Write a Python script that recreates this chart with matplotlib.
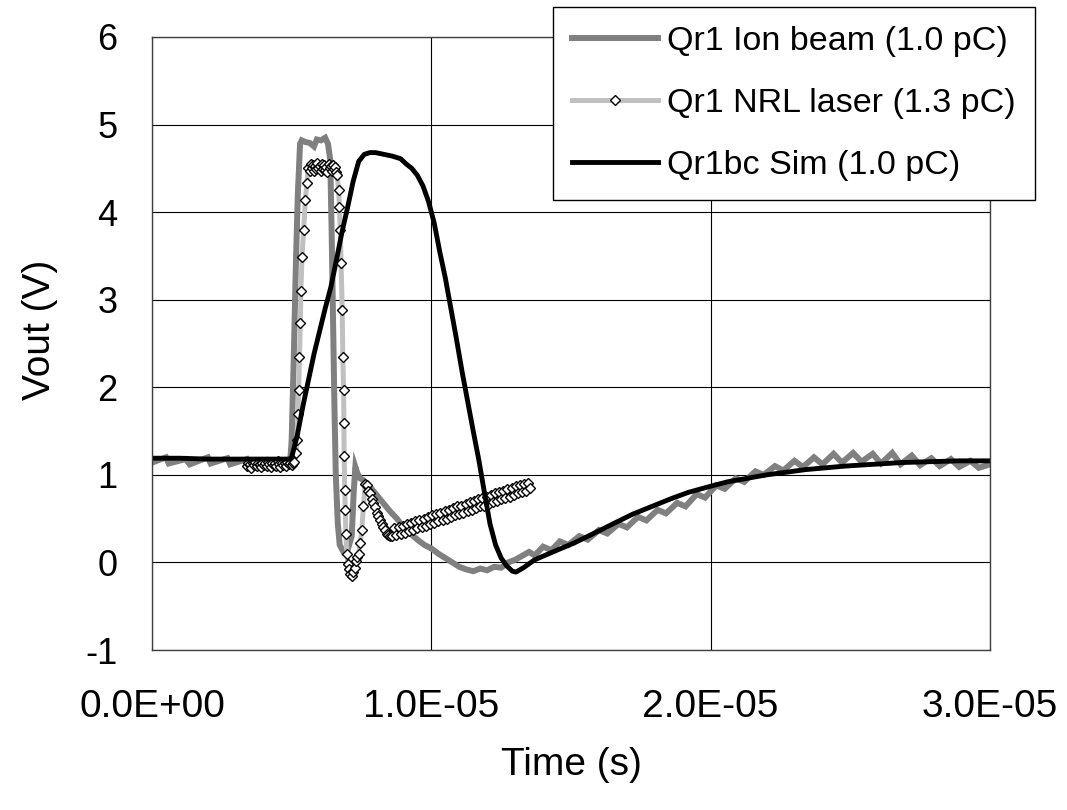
import numpy as np
import matplotlib
matplotlib.use("Agg")
from matplotlib import pyplot as plt
from matplotlib.ticker import FuncFormatter

plt.rcParams['font.family'] = ['Liberation Sans', 'DejaVu Sans']
plt.rcParams['axes.unicode_minus'] = False

# time in microseconds, voltage in V
ion_t = [0.0, 0.5, 0.6, 1.2, 1.35, 2.0, 2.1, 2.7, 2.8, 3.4, 3.5, 4.1, 4.2, 4.8, 4.95,
         5.00, 5.08, 5.15, 5.22, 5.30, 5.36,
         5.50, 5.65, 5.80, 5.90, 6.05, 6.20, 6.30,
         6.38, 6.43, 6.48, 6.53, 6.58, 6.65, 6.72, 6.85, 7.00, 7.15,
         7.22, 7.28, 7.35, 7.45,
         7.57, 7.81, 8.17, 8.53, 8.77, 9.00, 9.25, 9.50, 9.75, 10.0, 10.25, 10.5,
         10.75, 11.0, 11.25, 11.5, 11.75, 12.0, 12.25, 12.5, 12.75, 13.0,
         13.5, 13.7, 14.0, 14.3, 14.6, 14.9, 15.3, 15.6, 16.0, 16.3, 16.7, 17.0,
         17.4, 17.7, 18.1, 18.4, 18.8, 19.1, 19.5, 19.8, 20.2, 20.5, 20.9, 21.2,
         21.6, 21.9, 22.3, 22.6, 23.0, 23.3, 23.7, 24.0, 24.4, 24.7, 25.1, 25.4,
         25.8, 26.1, 26.5, 26.8, 27.2, 27.5, 27.9, 28.2, 28.6, 28.9, 29.3, 29.6, 30.0]
ion_v = [1.14, 1.20, 1.13, 1.18, 1.12, 1.20, 1.13, 1.19, 1.12, 1.18, 1.12, 1.17, 1.12, 1.14, 1.16,
         1.40, 2.40, 3.40, 4.20, 4.78, 4.82,
         4.80, 4.79, 4.75, 4.83, 4.82, 4.85, 4.78,
         4.60, 3.80, 2.80, 1.80, 1.00, 0.45, 0.20, 0.12, 0.14, 0.30,
         0.80, 1.09, 1.02, 0.96,
         0.94, 0.86, 0.72, 0.58, 0.50, 0.40, 0.33, 0.26, 0.20, 0.16, 0.10, 0.05,
         0.00, -0.05, -0.08, -0.10, -0.07, -0.09, -0.05, -0.06, 0.00, 0.03,
         0.12, 0.08, 0.18, 0.14, 0.24, 0.20, 0.30, 0.26, 0.37, 0.33, 0.44, 0.40,
         0.52, 0.48, 0.60, 0.56, 0.68, 0.64, 0.78, 0.74, 0.88, 0.84, 0.96, 0.92,
         1.04, 1.00, 1.10, 1.05, 1.16, 1.09, 1.20, 1.12, 1.24, 1.14, 1.25, 1.15,
         1.24, 1.13, 1.25, 1.12, 1.22, 1.11, 1.19, 1.10, 1.18, 1.09, 1.16, 1.08, 1.12]

nrl_t = [3.40, 3.45, 3.50, 3.55, 3.60, 3.65, 3.70, 3.75, 3.80, 3.85, 3.90, 3.95,
         4.00, 4.05, 4.10, 4.15, 4.20, 4.25, 4.30, 4.35, 4.40, 4.45, 4.50, 4.55,
         4.60, 4.65, 4.70, 4.75, 4.80, 4.85, 4.90, 4.95, 5.00, 5.05, 5.10,
         5.15, 5.19, 5.22, 5.25, 5.28, 5.31, 5.33, 5.37, 5.43, 5.49, 5.54, 5.60,
         5.64, 5.68, 5.72, 5.76, 5.80, 5.84, 5.88, 5.92, 5.96, 6.00, 6.04, 6.08, 6.12,
         6.16, 6.20, 6.24, 6.28, 6.32, 6.36, 6.40, 6.44, 6.48, 6.52, 6.56, 6.60, 6.63,
         6.68, 6.71, 6.74, 6.77, 6.81, 6.83, 6.86, 6.87, 6.88, 6.90, 6.92, 6.94,
         6.98, 7.02, 7.06, 7.10, 7.15, 7.20, 7.25, 7.30, 7.35, 7.40,
         7.45, 7.51, 7.57, 7.63,
         7.68, 7.74, 7.80, 7.86, 7.92, 7.98, 8.04, 8.10, 8.16, 8.22, 8.28, 8.34, 8.40, 8.46, 8.52,
         8.60, 8.675, 8.75, 8.825, 8.90, 8.975, 9.05, 9.125, 9.20, 9.275, 9.35, 9.425,
         9.50, 9.575, 9.65, 9.725, 9.80, 9.875, 9.95, 10.025, 10.10, 10.175, 10.25, 10.325,
         10.40, 10.475, 10.55, 10.625, 10.70, 10.775, 10.85, 10.925, 11.00, 11.075, 11.15, 11.225,
         11.30, 11.375, 11.45, 11.525, 11.60, 11.675, 11.75, 11.825, 11.90, 11.975, 12.05, 12.125,
         12.20, 12.275, 12.35, 12.425, 12.50, 12.575, 12.65, 12.725, 12.80, 12.875, 12.95, 13.025,
         13.10, 13.175, 13.25, 13.325, 13.40, 13.475, 13.55]
nrl_v = [1.10, 1.14, 1.12, 1.08, 1.13, 1.11, 1.15, 1.10, 1.13, 1.12, 1.09, 1.14,
         1.11, 1.13, 1.10, 1.15, 1.12, 1.09, 1.14, 1.11, 1.13, 1.10, 1.16, 1.12,
         1.09, 1.14, 1.11, 1.13, 1.10, 1.15, 1.12, 1.14, 1.11, 1.13, 1.15,
         1.25, 1.40, 1.70, 1.97, 2.35, 2.73, 3.10, 3.49, 3.80, 4.14, 4.33, 4.50,
         4.47, 4.55, 4.50, 4.54, 4.47, 4.53, 4.49, 4.56, 4.50, 4.53, 4.47, 4.55, 4.49,
         4.54, 4.48, 4.52, 4.46, 4.55, 4.50, 4.53, 4.47, 4.54, 4.49, 4.52, 4.46, 4.42,
         4.25, 4.06, 3.80, 3.42, 2.88, 2.35, 1.97, 1.59, 1.21, 0.83, 0.60, 0.33,
         0.10, -0.02, -0.08, -0.13, -0.15, -0.11, -0.06, 0.02, 0.06, 0.10,
         0.22, 0.37, 0.64, 0.90,
         0.88, 0.82, 0.79, 0.73, 0.68, 0.63, 0.57, 0.53, 0.48, 0.44, 0.40, 0.37, 0.33, 0.31, 0.30,
         0.30, 0.39, 0.31, 0.41, 0.33, 0.42, 0.34, 0.44, 0.36, 0.45, 0.37, 0.47,
         0.39, 0.48, 0.40, 0.50, 0.42, 0.52, 0.44, 0.54, 0.45, 0.55, 0.47, 0.57,
         0.49, 0.59, 0.50, 0.60, 0.52, 0.62, 0.54, 0.64, 0.55, 0.65, 0.57, 0.67,
         0.59, 0.69, 0.60, 0.70, 0.62, 0.72, 0.64, 0.74, 0.65, 0.75, 0.67, 0.77,
         0.69, 0.79, 0.70, 0.80, 0.72, 0.82, 0.74, 0.84, 0.75, 0.85, 0.77, 0.87,
         0.79, 0.88, 0.80, 0.90, 0.82, 0.91, 0.85]

sim_t = [0.0, 1.0, 2.0, 3.0, 4.0, 4.95,
         5.00, 5.20, 5.40, 5.60, 5.80, 6.00, 6.20, 6.40, 6.60, 6.80, 7.00, 7.20, 7.40, 7.60,
         7.80, 8.00, 8.30, 8.60, 8.90, 9.10, 9.30, 9.50, 9.70, 9.90,
         10.10, 10.30, 10.50, 10.70, 10.90, 11.10, 11.30, 11.50, 11.70, 11.90,
         12.10, 12.30, 12.50, 12.70, 12.90, 13.03, 13.30, 13.70,
         14.5, 15.1, 16.0, 16.5, 17.2, 17.9, 18.6, 19.2, 20.0, 20.6, 21.3, 22.0,
         22.7, 23.4, 24.1, 24.8, 25.8, 26.8, 27.8, 28.9, 30.0]
sim_v = [1.19, 1.19, 1.18, 1.18, 1.18, 1.18,
         1.20, 1.45, 1.78, 2.08, 2.38, 2.64, 2.90, 3.14, 3.45, 3.77, 4.05, 4.35, 4.58, 4.66,
         4.68, 4.68, 4.66, 4.64, 4.61, 4.55, 4.50, 4.42, 4.30, 4.12,
         3.88, 3.55, 3.25, 2.90, 2.55, 2.18, 1.84, 1.50, 1.17, 0.80,
         0.44, 0.20, 0.05, -0.04, -0.10, -0.11, -0.06, 0.03,
         0.14, 0.22, 0.36, 0.44, 0.55, 0.64, 0.73, 0.80, 0.87, 0.92, 0.96, 1.00,
         1.03, 1.06, 1.08, 1.10, 1.12, 1.14, 1.15, 1.16, 1.16]

labels = ['Qr1 Ion beam (1.0 pC)', 'Qr1 NRL laser (1.3 pC)', 'Qr1bc Sim (1.0 pC)']

W, H = 1067, 810
fig = plt.figure(figsize=(W / 100, H / 100), dpi=100)
ax = fig.add_axes([152 / W, 160 / H, 838 / W, 613 / H])

us = 1e-6
ax.plot(np.array(ion_t) * us, ion_v, color='#808080', lw=4.3,
        solid_joinstyle='miter', label=labels[0])
ax.plot(np.array(nrl_t) * us, nrl_v, color='#c0c0c0', lw=3.6,
        marker='D', ms=5, mfc='white', mec='black', mew=1.0, label=labels[1])
ax.plot(np.array(sim_t) * us, sim_v, color='black', lw=3.5, label=labels[2])

ax.set_xlim(0, 3e-5)
ax.set_ylim(-1, 6)
ax.set_xticks([0, 1e-5, 2e-5, 3e-5])
ax.set_yticks(range(-1, 7))
ax.xaxis.set_major_formatter(FuncFormatter(lambda x, p: '%.1E' % x))
ax.grid(True, color='black', lw=0.8)
ax.set_axisbelow(True)
for s in ax.spines.values():
    s.set_color('#404040')
    s.set_linewidth(1.0)
ax.tick_params(axis='both', length=0)
ax.tick_params(axis='x', labelsize=28, pad=28)
ax.tick_params(axis='y', labelsize=26, pad=25)

fig.text(571 / W, 1 - 765 / H, 'Time (s)', fontsize=28, ha='center', va='center')
fig.text(40 / W, 1 - 330 / H, 'Vout (V)', fontsize=28, ha='center', va='center',
         rotation=90)

leg = fig.legend(loc='upper left', bbox_to_anchor=(553 / W, 1 - 7 / H),
                 fontsize=24.5, frameon=True, fancybox=False, framealpha=1,
                 edgecolor='black', borderpad=0.55, labelspacing=0.92,
                 handlelength=2.55, handletextpad=0.26, borderaxespad=0)
leg.get_frame().set_linewidth(1.0)

fig.savefig('out.png', dpi=100)
